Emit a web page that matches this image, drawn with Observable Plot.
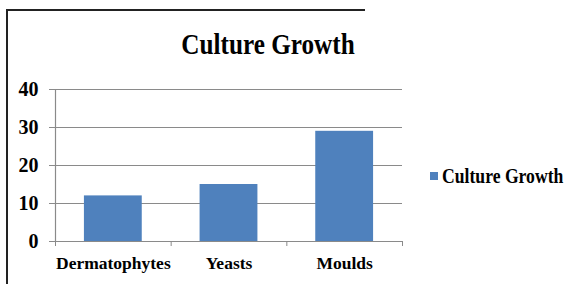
<!DOCTYPE html>
<html>
<head>
<meta charset="utf-8">
<script src="https://cdn.jsdelivr.net/npm/d3@7"></script>
<script src="https://cdn.jsdelivr.net/npm/@observablehq/plot@0.6"></script>
<style>
  html, body { margin: 0; padding: 0; background: #fff; }
  #wrap { position: relative; width: 572px; height: 284px; overflow: hidden; font-family: "Liberation Serif", "Times New Roman", serif; font-weight: bold; color: #000; }
  #wrap svg { position: absolute; left: 0; top: 0; }
  #title { position: absolute; left: 0; width: 536px; top: 29px; text-align: center; font-size: 30px; line-height: 30px; transform: scaleX(0.84); transform-origin: 268px 0; }
  #legend { position: absolute; left: 430px; top: 166px; font-size: 21px; line-height: 20px; white-space: nowrap; display: flex; align-items: center; }
  #legend .sw { width: 8px; height: 8px; background: #4F81BD; margin-right: 4px; }
  #legend .lt { display: inline-block; transform: scaleX(0.84); transform-origin: 0 50%; }
  .bl { position: absolute; background: #222; }
</style>
</head>
<body>
<div id="wrap">
  <div class="bl" style="left:6px; top:9px; width:2px; height:275px;"></div>
  <div class="bl" style="left:6px; top:9px; width:359px; height:1.5px;"></div>
  <div id="chart"></div>
  <div id="title">Culture Growth</div>
  <div id="legend"><span class="sw"></span><span class="lt">Culture Growth</span></div>
</div>
<script>
const categories = ["Dermatophytes", "Yeasts", "Moulds"];
const values = [12, 15, 29];
const yTicks = [0, 10, 20, 30, 40];
const seriesName = "Culture Growth";

const data = categories.map((c, i) => ({ category: c, index: i, value: values[i] }));
const bounds = d3.range(categories.length + 1).map(i => i - 0.5);

const chart = Plot.plot({
  width: 572,
  height: 284,
  marginLeft: 55,
  marginRight: 170,
  marginTop: 89,
  marginBottom: 43,
  style: { fontFamily: "'Liberation Serif', 'Times New Roman', serif", fontWeight: "bold", background: "transparent" },
  x: { type: "linear", domain: [-0.5, categories.length - 0.5], label: null },
  y: { domain: [0, 40], label: null },
  marks: [
    Plot.ruleY(yTicks.filter(d => d > 0), { stroke: "#8a8a8a", strokeWidth: 1.2 }),
    Plot.rectY(data, { x1: d => d.index - 0.25, x2: d => d.index + 0.25, y1: 0, y2: "value", fill: "#4F81BD" }),
    Plot.ruleX([-0.5], { stroke: "#8a8a8a", strokeWidth: 1.2 }),
    Plot.ruleY([0], { stroke: "#8a8a8a", strokeWidth: 1.2 }),
    Plot.axisY({ ticks: yTicks, tickSize: 6, tickPadding: 11, stroke: "#8a8a8a", fontSize: 20, fill: "#000", label: null, tickFormat: d3.format("d") }),
    Plot.axisX({ ticks: bounds, tickSize: 5, tickFormat: () => "", stroke: "#8a8a8a", label: null }),
    Plot.axisX({ ticks: d3.range(categories.length), tickSize: 0, tickPadding: 15, fontSize: 17.5, fill: "#000", label: null, tickFormat: i => categories[i] })
  ]
});
document.getElementById("chart").appendChild(chart);
</script>
</body>
</html>
